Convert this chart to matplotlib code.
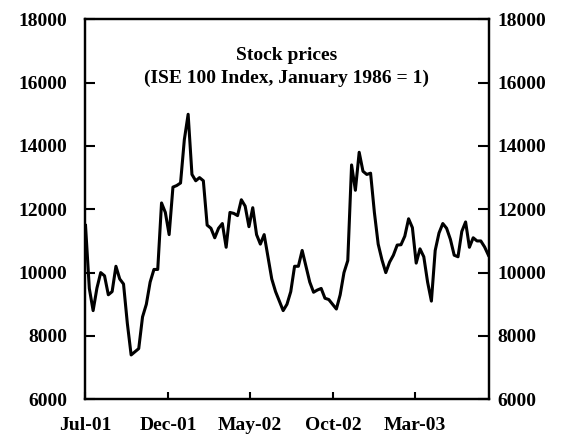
import matplotlib
matplotlib.use("Agg")
import matplotlib.pyplot as plt
import pandas as pd

# ISE 100 index, weekly readings from Jul-01 on
ise100 = [11490, 9500, 8800, 9510, 10000, 9900, 9300, 9400, 10200, 9800,
          9640, 8400, 7400, 7500, 7600, 8600, 9000, 9700, 10100, 10100,
          12200, 11900, 11200, 12700, 12750, 12830, 14200, 15000, 13100, 12900,
          13000, 12900, 11500, 11400, 11100, 11400, 11550, 10800, 11900, 11870,
          11800, 12300, 12100, 11450, 12050, 11200, 10900, 11200, 10500, 9800,
          9400, 9100, 8800, 9000, 9400, 10200, 10200, 10700, 10200, 9700,
          9380, 9450, 9500, 9190, 9150, 9000, 8850, 9300, 10000, 10380,
          13400, 12600, 13800, 13200, 13100, 13140, 11900, 10900, 10400, 10000,
          10330, 10550, 10870, 10880, 11150, 11700, 11420, 10300, 10750, 10500,
          9700, 9100, 10700, 11250, 11550, 11400, 11050, 10550, 10500, 11300,
          11600, 10800, 11100, 11000, 11000, 10810, 10550]
weeks = pd.date_range("2001-07-02", periods=len(ise100), freq="7D")

tick_dates = pd.to_datetime(["2001-07-01", "2001-12-01", "2002-05-01",
                             "2002-10-01", "2003-03-01"])
tick_labels = ["Jul-01", "Dec-01", "May-02", "Oct-02", "Mar-03"]
y_ticks = [6000, 8000, 10000, 12000, 14000, 16000, 18000]

plt.rcParams["font.family"] = ["Liberation Serif", "DejaVu Serif"]
plt.rcParams["font.weight"] = "bold"

fig = plt.figure(figsize=(5.65, 4.41), dpi=100)
ax = fig.add_axes([0.1504, 0.0946, 0.715, 0.8617])

ax.plot(weeks, ise100, color="black", linewidth=2.2)

ax.set_xlim(pd.Timestamp("2001-07-01"), pd.Timestamp("2003-07-15"))
ax.set_ylim(6000, 18000)
ax.set_xticks(tick_dates)
ax.set_xticklabels(tick_labels)
ax.set_yticks(y_ticks)
ax.tick_params(axis="x", direction="in", length=5, width=1.5, pad=13, labelsize=14)
ax.tick_params(axis="y", direction="in", length=7, width=1.5, pad=13, labelsize=14)

# right-hand scale, labels closer to the frame
ax2 = ax.twinx()
ax2.set_ylim(6000, 18000)
ax2.set_yticks(y_ticks)
ax2.tick_params(axis="y", direction="in", length=8, width=1.5, pad=6, labelsize=14)

for a in (ax, ax2):
    for spine in a.spines.values():
        spine.set_linewidth(1.6)

ax.text(0.5, 0.905, "Stock prices", transform=ax.transAxes, ha="center",
        va="center", fontsize=14, fontweight="bold")
ax.text(0.5, 0.845, "(ISE 100 Index, January 1986 = 1)", transform=ax.transAxes,
        ha="center", va="center", fontsize=14, fontweight="bold")

fig.savefig("out.png", dpi=100)
